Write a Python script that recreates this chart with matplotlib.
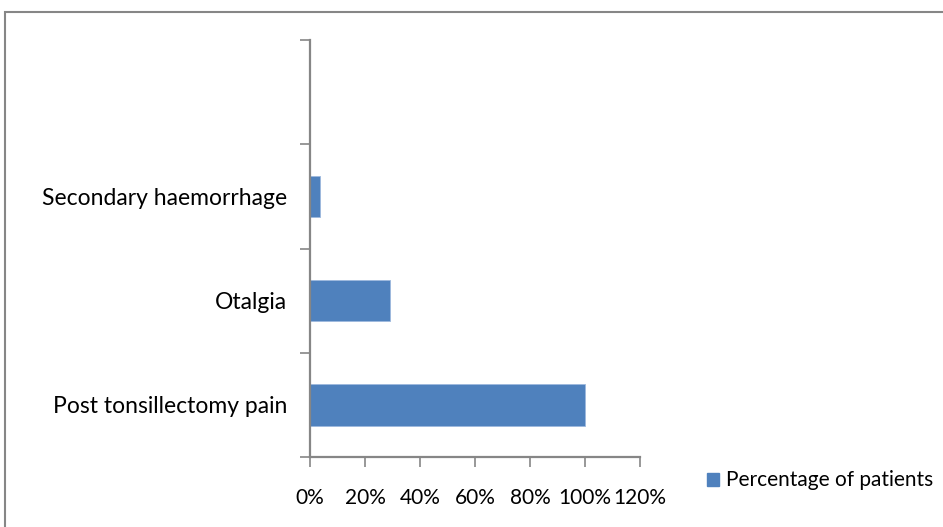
import matplotlib
matplotlib.use("Agg")
import matplotlib.pyplot as plt
from matplotlib.patches import Rectangle
from matplotlib.ticker import FuncFormatter

plt.rcParams['font.family'] = ['Lato', 'DejaVu Sans']

categories = ["Post tonsillectomy pain", "Otalgia", "Secondary haemorrhage", ""]
values = [100, 29, 3.8, 0]
series_name = "Percentage of patients"
x_ticks = [0, 20, 40, 60, 80, 100, 120]

W, H = 943, 527
fig = plt.figure(figsize=(W / 100, H / 100), dpi=100)
ax = fig.add_axes([310 / W, 1 - 457 / H, 330 / W, 417 / H])

ypos = list(range(len(categories)))
ax.barh(ypos, values, height=0.4, color="#4F81BD", edgecolor="#9DB9DE",
        linewidth=0.6, label=series_name)

ax.set_xlim(0, 120)
ax.set_ylim(-0.5, len(categories) - 0.5)
ax.set_xticks(x_ticks)
ax.xaxis.set_major_formatter(FuncFormatter(lambda v, p: f"{v:.0f}%"))

# category labels centred in each slot, ticks drawn on slot boundaries
ax.set_yticks(ypos)
ax.set_yticklabels(categories)
ax.set_yticks([i - 0.5 for i in range(len(categories) + 1)], minor=True)
ax.tick_params(axis="y", which="major", length=0, pad=16.5, labelsize=16.5)
ax.tick_params(axis="y", which="minor", length=7, width=1.2, color="#868686")
ax.tick_params(axis="x", length=7, width=1.2, color="#868686", pad=15, labelsize=15)

for s in ("top", "right"):
    ax.spines[s].set_visible(False)
for s in ("left", "bottom"):
    ax.spines[s].set_color("#868686")
    ax.spines[s].set_linewidth(1.6)

# legend
fig.patches.append(Rectangle((707 / W, 1 - 486 / H), 12 / W, 13 / H,
                             transform=fig.transFigure, color="#4F81BD"))
fig.text(726 / W, 1 - 480 / H, series_name, fontsize=15, va="center", ha="left")

# outer chart frame
fig.patches.append(Rectangle((5 / W, -0.05), 1.0, 1 - 12 / H + 0.05,
                             transform=fig.transFigure, fill=False,
                             edgecolor="#868686", linewidth=1.5))

fig.savefig("out.png", dpi=100)
